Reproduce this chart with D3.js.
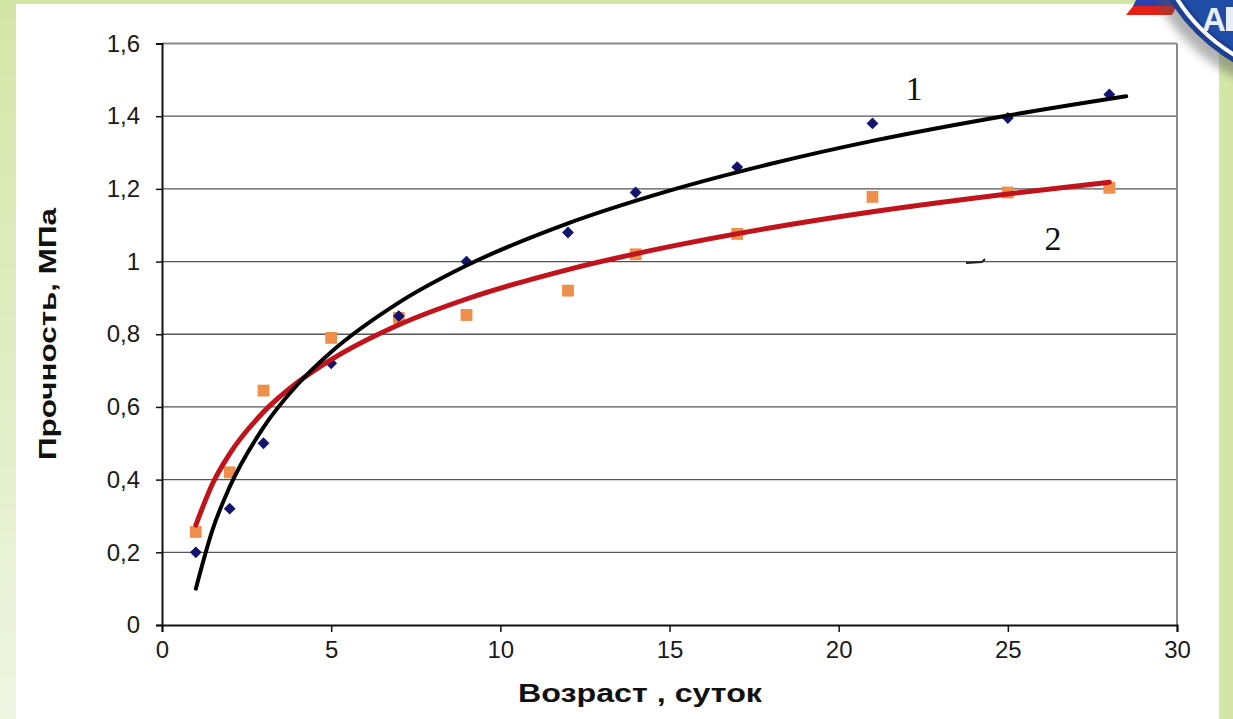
<!DOCTYPE html>
<html>
<head>
<meta charset="utf-8">
<script src="https://cdn.jsdelivr.net/npm/d3@7"></script>
<style>
  html, body { margin: 0; padding: 0; background: #fff; }
  svg { display: block; }
</style>
</head>
<body>
<div id="canvas"></div>
<script>
// data
var days = [1, 2, 3, 5, 7, 9, 12, 14, 17, 21, 25, 28];
var strength1 = [0.20, 0.32, 0.50, 0.72, 0.85, 1.00, 1.08, 1.19, 1.26, 1.38, 1.395, 1.46];
var strength2 = [0.256, 0.42, 0.645, 0.79, 0.845, 0.853, 0.92, 1.02, 1.076, 1.178, 1.19, 1.203];

// trend curves, points
var trendX1 = [1, 1.5, 2, 3, 4, 5, 7, 9, 12, 15, 18, 21, 25, 28.5];
var trendY1 = [0.10, 0.264, 0.38, 0.544, 0.661, 0.751, 0.887, 0.989, 1.105, 1.195, 1.269, 1.332, 1.402, 1.455];
var trendX2 = [1, 1.5, 2, 3, 4, 5, 7, 9, 12, 15, 18, 21, 25, 28];
var trendY2 = [0.275, 0.39, 0.471, 0.586, 0.667, 0.730, 0.826, 0.897, 0.978, 1.041, 1.093, 1.137, 1.186, 1.218];

var xTicks = [0, 5, 10, 15, 20, 25, 30];
var yTicks = [0, 0.2, 0.4, 0.6, 0.8, 1, 1.2, 1.4, 1.6];
var yTickLabels = ["0", "0,2", "0,4", "0,6", "0,8", "1", "1,2", "1,4", "1,6"];

var W = 1233, H = 719;
var FONT = "Liberation Sans, Arial, sans-serif";

var svg = d3.select("#canvas").append("svg")
  .attr("width", W)
  .attr("height", H);

var defs = svg.append("defs");
var grad = defs.append("linearGradient")
  .attr("id", "leftGreen")
  .attr("x1", 0).attr("y1", 0).attr("x2", 0).attr("y2", 1);
grad.append("stop").attr("offset", "0%").attr("stop-color", "#d3e6a6");
grad.append("stop").attr("offset", "100%").attr("stop-color", "#eef5e2");

var shadow = defs.append("filter").attr("id", "shadow")
  .attr("x", "-20%").attr("y", "-20%").attr("width", "140%").attr("height", "140%");
shadow.append("feGaussianBlur").attr("stdDeviation", 5);

// slide background
svg.append("rect").attr("width", W).attr("height", H).attr("fill", "#d3e6a6");
svg.append("rect").attr("x", 0).attr("y", 0).attr("width", 16).attr("height", H).attr("fill", "url(#leftGreen)");
svg.append("rect").attr("x", 16).attr("y", 4).attr("width", 1203).attr("height", H - 4).attr("fill", "#fff");

// scales
var x = d3.scaleLinear().domain([0, 30]).range([162, 1177]);
var y = d3.scaleLinear().domain([0, 1.6]).range([625, 43.5]);

var g = svg.append("g");

// grid lines
g.selectAll(".grid")
  .data(yTicks.filter(function(d) { return d > 0; }))
  .enter().append("line")
  .attr("class", "grid")
  .attr("x1", x(0)).attr("x2", x(30))
  .attr("y1", function(d) { return y(d); })
  .attr("y2", function(d) { return y(d); })
  .attr("stroke", function(d) { return d === 1.6 ? "#8a8a8a" : "#555"; })
  .attr("stroke-width", function(d) { return d === 1.6 ? 2 : 1.3; });

// right border
g.append("line")
  .attr("x1", x(30)).attr("x2", x(30))
  .attr("y1", y(1.6)).attr("y2", y(0))
  .attr("stroke", "#8a8a8a").attr("stroke-width", 2);

// axes
var xAxis = d3.axisBottom(x).tickValues(xTicks).tickSize(7).tickPadding(4);
var yAxis = d3.axisLeft(y).tickValues(yTicks).tickSize(6).tickPadding(16)
  .tickFormat(function(d, i) { return yTickLabels[i]; });

var gX = g.append("g")
  .attr("transform", "translate(0," + y(0) + ")")
  .call(xAxis);
var gY = g.append("g")
  .attr("transform", "translate(" + x(0) + ",0)")
  .call(yAxis);

[gX, gY].forEach(function(ax) {
  ax.select(".domain").attr("stroke", "#111").attr("stroke-width", 2);
  ax.selectAll(".tick line").attr("stroke", "#111").attr("stroke-width", 1.5);
  ax.selectAll("text")
    .attr("fill", "#1a1a1a")
    .style("font-family", FONT)
    .style("font-size", "24px");
});
gX.selectAll("text").attr("dy", "0.9em");

// axis titles
svg.append("text")
  .attr("x", 640).attr("y", 702)
  .attr("text-anchor", "middle")
  .attr("textLength", 244)
  .attr("lengthAdjust", "spacingAndGlyphs")
  .style("font-family", FONT)
  .style("font-size", "25px")
  .style("font-weight", "bold")
  .attr("fill", "#111")
  .text("Возраст , суток");

svg.append("text")
  .attr("transform", "translate(56,334) rotate(-90)")
  .attr("text-anchor", "middle")
  .attr("textLength", 252)
  .attr("lengthAdjust", "spacingAndGlyphs")
  .style("font-family", FONT)
  .style("font-size", "24px")
  .style("font-weight", "bold")
  .attr("fill", "#111")
  .text("Прочность, МПа");

// trend lines
var line = d3.line()
  .x(function(d) { return x(d[0]); })
  .y(function(d) { return y(d[1]); })
  .curve(d3.curveMonotoneX);

var pts1 = d3.zip(trendX1, trendY1);
var pts2 = d3.zip(trendX2, trendY2);

// series markers
var sq = d3.symbol().type(d3.symbolSquare).size(140);
var dia = d3.symbol().type(d3.symbolSquare).size(70);

g.selectAll(".sq")
  .data(d3.zip(days, strength2))
  .enter().append("path")
  .attr("class", "sq")
  .attr("d", sq)
  .attr("transform", function(d) { return "translate(" + x(d[0]) + "," + y(d[1]) + ")"; })
  .attr("fill", "#ee8f4c");

g.selectAll(".dia")
  .data(d3.zip(days, strength1))
  .enter().append("path")
  .attr("class", "dia")
  .attr("d", dia)
  .attr("transform", function(d) { return "translate(" + x(d[0]) + "," + y(d[1]) + ") rotate(45)"; })
  .attr("fill", "#14146e");

g.append("path")
  .attr("d", line(pts2))
  .attr("fill", "none")
  .attr("stroke", "#c1131b")
  .attr("stroke-width", 5)
  .attr("stroke-linecap", "round");

g.append("path")
  .attr("d", line(pts1))
  .attr("fill", "none")
  .attr("stroke", "#000")
  .attr("stroke-width", 4)
  .attr("stroke-linecap", "round");

// curve labels
svg.append("text")
  .attr("x", 914).attr("y", 100)
  .attr("text-anchor", "middle")
  .style("font-family", "Liberation Serif, Times New Roman, serif")
  .style("font-size", "34px")
  .attr("fill", "#111")
  .text("1");
svg.append("text")
  .attr("x", 1053).attr("y", 250)
  .attr("text-anchor", "middle")
  .style("font-family", "Liberation Serif, Times New Roman, serif")
  .style("font-size", "34px")
  .attr("fill", "#111")
  .text("2");

// small stray mark under label 2
svg.append("path")
  .attr("d", "M966,263 L982,262 L985,259")
  .attr("fill", "none")
  .attr("stroke", "#222")
  .attr("stroke-width", 2);

// logo corner
var logo = svg.append("g");
logo.append("path")
  .attr("d", "M1138,0 L1180,0 L1172,15 L1126,15 Z")
  .attr("fill", "#e32119");
logo.append("path")
  .attr("d", "M1136,0 L1180,0 L1177,6 L1133,6 Z")
  .attr("fill", "#2b3fae");
logo.append("circle")
  .attr("cx", 1322).attr("cy", -92).attr("r", 180)
  .attr("fill", "#555")
  .attr("opacity", 0.45)
  .attr("filter", "url(#shadow)")
  .attr("transform", "translate(-6,8)");
logo.append("circle")
  .attr("cx", 1322).attr("cy", -92).attr("r", 178)
  .attr("fill", "#1d3f94");
logo.append("circle")
  .attr("cx", 1322).attr("cy", -92).attr("r", 171)
  .attr("fill", "none")
  .attr("stroke", "#fff")
  .attr("stroke-width", 4);
logo.append("circle")
  .attr("cx", 1322).attr("cy", -92).attr("r", 166)
  .attr("fill", "#1f4da6");
logo.append("text")
  .attr("x", 1202).attr("y", 31)
  .style("font-family", FONT)
  .style("font-size", "33px")
  .style("font-weight", "bold")
  .attr("fill", "#e8eef8")
  .text("A");
// stem of the cut-off second letter
logo.append("rect")
  .attr("x", 1226).attr("y", 7).attr("width", 7).attr("height", 24)
  .attr("fill", "#e8eef8");
</script>
</body>
</html>
